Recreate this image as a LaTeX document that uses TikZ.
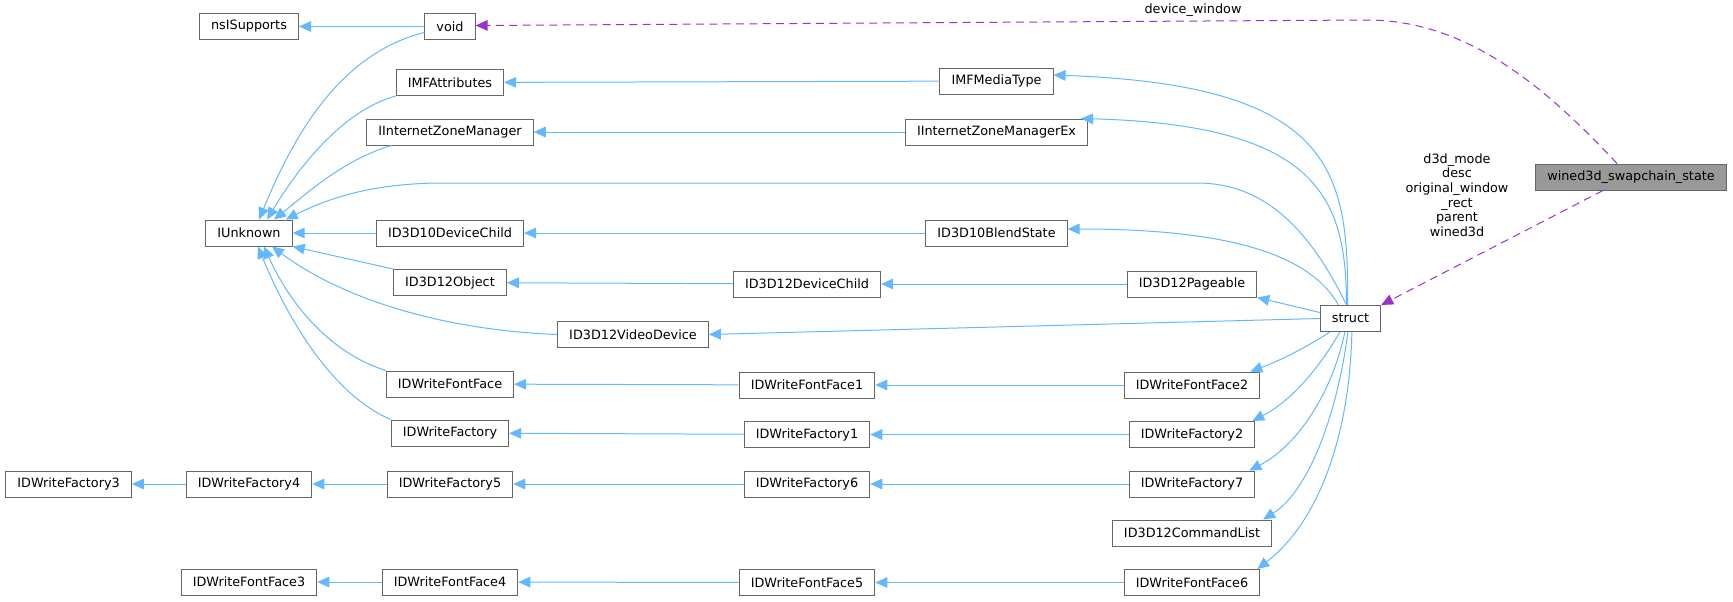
\documentclass[tikz,border=0pt]{standalone}
\usepackage{fontspec}
\setmainfont{DejaVu Sans}
\usepackage{xcolor}
\usetikzlibrary{arrows.meta, calc}

\definecolor{boxgray}{HTML}{666666}
\definecolor{swapfill}{HTML}{999999}
\definecolor{inhblue}{HTML}{63B8FF}
\definecolor{usepurple}{HTML}{9A32CD}

\tikzset{
  cls/.style={draw=boxgray, line width=0.75pt, fill=white, minimum height=19.5pt,
    inner xsep=8.7pt, inner ysep=0pt, font=\fontsize{9.6}{11.5}\selectfont},
  inh/.style={draw=inhblue, line width=0.75pt, -{Triangle[length=9pt,width=8pt]}},
  usage/.style={draw=usepurple, line width=0.75pt, dash pattern=on 6pt off 4pt,
    -{Triangle[length=9pt,width=8pt]}},
  lbl/.style={font=\fontsize{9.6}{11}\selectfont, inner sep=0pt, align=center}
}

\begin{document}
\begin{tikzpicture}[x=0.75pt, y=-0.75pt]
  \useasboundingbox (0,0) rectangle (1733,601);
  % coordinates are pixels of the 1733x601 layout, y down
  % column 1
  \node[cls] (factory3) at (68.6,484) {IDWriteFactory3};
  % column 2
  \node[cls] (nsi) at (249,26.5) {nsISupports};
  \node[cls] (iunk) at (249,233) {IUnknown};
  \node[cls] (factory4) at (249,484) {IDWriteFactory4};
  \node[cls] (fontface3) at (249,582) {IDWriteFontFace3};
  % column 3
  \node[cls] (void) at (450,26.5) {void};
  \node[cls] (imfattr) at (450,82.5) {IMFAttributes};
  \node[cls] (izm) at (450,132) {IInternetZoneManager};
  \node[cls] (d3d10dc) at (450,233) {ID3D10DeviceChild};
  \node[cls] (d3d12obj) at (450,282.5) {ID3D12Object};
  \node[cls] (fontface) at (450,384) {IDWriteFontFace};
  \node[cls] (factory) at (450,433) {IDWriteFactory};
  \node[cls] (factory5) at (450,484) {IDWriteFactory5};
  \node[cls] (fontface4) at (450,582) {IDWriteFontFace4};
  % column 4
  \node[cls] (videodev) at (633,334.5) {ID3D12VideoDevice};
  \node[cls] (d3d12dc) at (807,284) {ID3D12DeviceChild};
  \node[cls] (fontface1) at (807,385) {IDWriteFontFace1};
  \node[cls] (factory1) at (807,434.5) {IDWriteFactory1};
  \node[cls] (factory6) at (807,484) {IDWriteFactory6};
  \node[cls] (fontface5) at (807,582.5) {IDWriteFontFace5};
  \node[cls] (mediatype) at (996.5,81) {IMFMediaType};
  \node[cls] (izmex) at (996.5,132) {IInternetZoneManagerEx};
  \node[cls] (blend) at (996.5,233) {ID3D10BlendState};
  % column 5
  \node[cls] (pageable) at (1192,284) {ID3D12Pageable};
  \node[cls] (fontface2) at (1192,385) {IDWriteFontFace2};
  \node[cls] (factory2) at (1192,434.5) {IDWriteFactory2};
  \node[cls] (factory7) at (1192,484) {IDWriteFactory7};
  \node[cls] (cmdlist) at (1192,533) {ID3D12CommandList};
  \node[cls] (fontface6) at (1192,582.5) {IDWriteFontFace6};
  % column 6 and 7
  \node[cls] (struct) at (1350.5,318.5) {struct};
  \node[cls, fill=swapfill] (swap) at (1631,177) {wined3d\_swapchain\_state};

  % straight inheritance edges
  \foreach \a/\b in {void/nsi, d3d10dc/iunk, mediatype/imfattr, izmex/izm,
      blend/d3d10dc, d3d12dc/d3d12obj, pageable/d3d12dc, fontface1/fontface,
      fontface2/fontface1, factory1/factory, factory2/factory1,
      factory4/factory3, factory5/factory4, factory6/factory5, factory7/factory6,
      fontface4/fontface3, fontface5/fontface4, fontface6/fontface5} {
    \draw[inh] (\a) -- (\b);
  }
  \draw[inh] (d3d12obj.north west) -- (iunk.south east);

  % curved edges into IUnknown
  \draw[inh] ($(void.west)+(0,6)$) .. controls (333,55) and (288,150) .. ($(iunk.north)+(10,0)$);
  \draw[inh] (imfattr.south west) .. controls (344,110) and (300,165) .. ($(iunk.north)+(18,0)$);
  \draw[inh] ($(izm.south west)+(25,0)$) .. controls (344,160) and (311,190) .. ($(iunk.north)+(25,0)$);
  \draw[inh] (videodev.west) .. controls (444,330) and (344,300) .. ($(iunk.south)+(23,0)$);
  \draw[inh] (fontface.north west) .. controls (327,352) and (288,300) .. ($(iunk.south)+(15,0)$);
  \draw[inh] (factory.north west) .. controls (333,395) and (288,320) .. ($(iunk.south)+(9,0)$);
  \draw[inh] ($(struct.north)+(-4,0)$) .. controls (1310,230) and (1265,183) .. (1197,183)
    -- (444,183) .. controls (377,183) and (333,196) .. ($(iunk.north east)+(-7,0)$);

  % struct fan
  \draw[inh] ($(struct.north)+(-3,0)$) .. controls (1349,170) and (1333,85) .. ($(mediatype.east)+(0,-6)$);
  \draw[inh] ($(struct.north)+(-4,0)$) .. controls (1346,200) and (1321,125) .. ($(izmex.north east)+(-7,0)$);
  \draw[inh] ($(struct.north)+(-12,0)$) .. controls (1310,255) and (1231,229) .. ($(blend.east)+(0,-4)$);
  \draw[inh] ($(struct.west)+(0,-6)$) -- (pageable.south east);
  \draw[inh] (struct.west) -- (videodev.east);
  \draw[inh] ($(struct.south west)+(10,0)$) .. controls (1310,345) and (1282,360) .. ($(fontface2.north east)+(-10,0)$);
  \draw[inh] ($(struct.south west)+(20,0)$) .. controls (1321,365) and (1293,400) .. ($(factory2.north east)+(-3,0)$);
  \draw[inh] ($(struct.south west)+(25,0)$) .. controls (1333,390) and (1299,445) .. ($(factory7.north east)+(-6,0)$);
  \draw[inh] ($(struct.south west)+(28,0)$) .. controls (1338,410) and (1310,490) .. ($(cmdlist.north east)+(-9,0)$);
  \draw[inh] ($(struct.south west)+(32,0)$) .. controls (1350,430) and (1321,520) .. ($(fontface6.north east)+(-3,0)$);

  % member usage
  \draw[usage] ($(swap.north)+(-14,0)$) .. controls (1548,90) and (1469,20) .. (1367,20)
    -- ($(void.east)+(0,-1)$);
  \node[lbl] (lblvoid) at (1193,10) {device\_window};
  \draw[usage] ($(swap.south)+(-28,0)$) -- (struct.north east);
  \node[lbl] (lblstruct) at (1457,195) {d3d\_mode\\desc\\original\_window\\\_rect\\parent\\wined3d};
\end{tikzpicture}
\end{document}
